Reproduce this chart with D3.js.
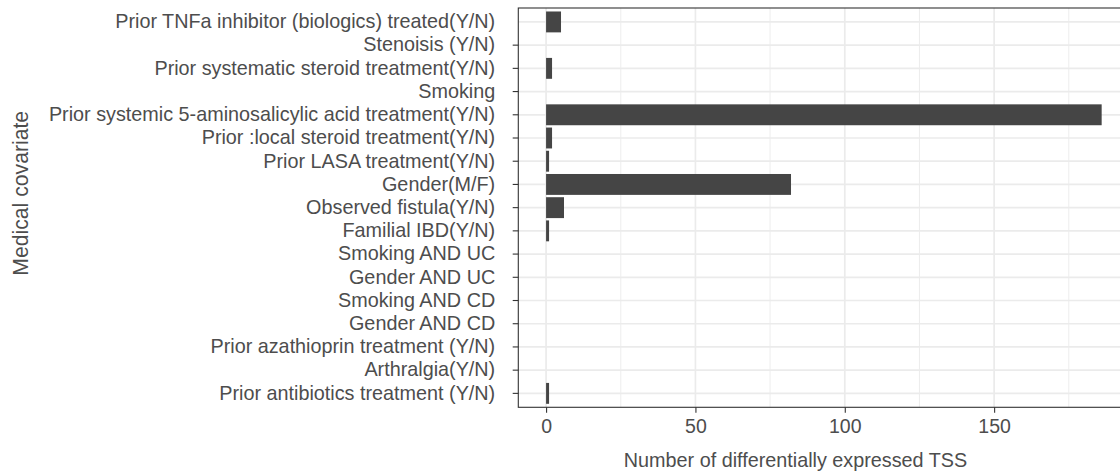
<!DOCTYPE html>
<html>
<head>
<meta charset="utf-8">
<script src="https://cdn.jsdelivr.net/npm/d3@7"></script>
<style>
  html, body { margin: 0; padding: 0; background: #fff; }
  svg { display: block; font-family: "Liberation Sans", Arial, Helvetica, sans-serif; }
</style>
</head>
<body>
<svg id="chart" width="1120" height="475"></svg>
<script>
// Medical covariates, listed top to bottom
const covariates = [
  "Prior TNFa inhibitor (biologics) treated(Y/N)",
  "Stenoisis (Y/N)",
  "Prior systematic steroid treatment(Y/N)",
  "Smoking",
  "Prior systemic 5-aminosalicylic acid treatment(Y/N)",
  "Prior :local steroid treatment(Y/N)",
  "Prior LASA treatment(Y/N)",
  "Gender(M/F)",
  "Observed fistula(Y/N)",
  "Familial IBD(Y/N)",
  "Smoking AND UC",
  "Gender AND UC",
  "Smoking AND CD",
  "Gender AND CD",
  "Prior azathioprin treatment (Y/N)",
  "Arthralgia(Y/N)",
  "Prior antibiotics treatment (Y/N)"
];

// Number of differentially expressed TSS per covariate
const deTSS = [5, 0, 2, 0, 186, 2, 1, 82, 6, 1, 0, 0, 0, 0, 0, 0, 1];

const xTicks = [0, 50, 100, 150];
const xMinorTicks = [25, 75, 125, 175];

const xTitle = "Number of differentially expressed TSS";
const yTitle = "Medical covariate";

const data = covariates.map((c, i) => ({ covariate: c, value: deTSS[i] }));

const svg = d3.select("#chart");

// Panel geometry (right edge runs past the viewport)
const panel = { left: 518.3, top: 8, bottom: 407.3 };
const pxPerUnit = 2.987;
const maxVal = d3.max(deTSS);
const lo = -0.05 * maxVal, hi = 1.05 * maxVal;
panel.right = panel.left + (hi - lo) * pxPerUnit;

const x = d3.scaleLinear().domain([lo, hi]).range([panel.left, panel.right]);
const y = d3.scaleBand()
  .domain(covariates)
  .range([panel.top, panel.bottom])
  .paddingInner(0.1)
  .paddingOuter(0.15);

const gridColor = "#ebebeb";
const textColor = "#4d4d4d";
const lineColor = "#333333";

// Panel background
svg.append("rect")
  .attr("x", panel.left).attr("y", panel.top)
  .attr("width", panel.right - panel.left).attr("height", panel.bottom - panel.top)
  .attr("fill", "#fff");

const grid = svg.append("g");
// minor vertical grid
grid.selectAll("line.minor").data(xMinorTicks).join("line")
  .attr("class", "minor")
  .attr("x1", d => x(d)).attr("x2", d => x(d))
  .attr("y1", panel.top).attr("y2", panel.bottom)
  .attr("stroke", gridColor).attr("stroke-width", 0.9);
// major vertical grid
grid.selectAll("line.majorx").data(xTicks).join("line")
  .attr("class", "majorx")
  .attr("x1", d => x(d)).attr("x2", d => x(d))
  .attr("y1", panel.top).attr("y2", panel.bottom)
  .attr("stroke", gridColor).attr("stroke-width", 1.7);
// major horizontal grid at each category
grid.selectAll("line.majory").data(covariates).join("line")
  .attr("class", "majory")
  .attr("x1", panel.left).attr("x2", panel.right)
  .attr("y1", d => y(d) + y.bandwidth() / 2).attr("y2", d => y(d) + y.bandwidth() / 2)
  .attr("stroke", gridColor).attr("stroke-width", 1.7);

// Bars
svg.append("g").selectAll("rect").data(data).join("rect")
  .attr("x", x(0))
  .attr("y", d => y(d.covariate))
  .attr("width", d => x(d.value) - x(0))
  .attr("height", y.bandwidth())
  .attr("fill", "#454545");

// Panel border
svg.append("rect")
  .attr("x", panel.left).attr("y", panel.top)
  .attr("width", panel.right - panel.left).attr("height", panel.bottom - panel.top)
  .attr("fill", "none").attr("stroke", lineColor).attr("stroke-width", 1.1);

// X axis
const xAxis = svg.append("g")
  .attr("transform", `translate(0,${panel.bottom})`)
  .call(d3.axisBottom(x).tickValues(xTicks).tickSize(5.5).tickPadding(6).tickFormat(d3.format("d")));
xAxis.select(".domain").remove();
xAxis.selectAll(".tick line").attr("stroke", lineColor).attr("stroke-width", 1.1);
xAxis.selectAll(".tick text")
  .attr("fill", textColor).attr("font-size", 19.5)
  .attr("font-family", "Liberation Sans, Arial, sans-serif");

// Y axis
const yAxis = svg.append("g")
  .attr("transform", `translate(${panel.left},0)`)
  .call(d3.axisLeft(y).tickSize(5.6).tickPadding(17.5));
yAxis.select(".domain").remove();
yAxis.selectAll(".tick line").attr("stroke", lineColor).attr("stroke-width", 1.1)
  .attr("display", (d, i) => i === 0 ? "none" : null);
yAxis.selectAll(".tick text")
  .attr("fill", textColor).attr("font-size", 19.8)
  .attr("font-family", "Liberation Sans, Arial, sans-serif");

// Axis titles
svg.append("text")
  .attr("x", 795.5)
  .attr("y", 466.5)
  .attr("text-anchor", "middle")
  .attr("fill", textColor).attr("font-size", 19.8)
  .text(xTitle);

svg.append("text")
  .attr("transform", "translate(28.3,193.3) rotate(-90)")
  .attr("text-anchor", "middle")
  .attr("fill", textColor).attr("font-size", 21.2)
  .text(yTitle);
</script>
</body>
</html>
